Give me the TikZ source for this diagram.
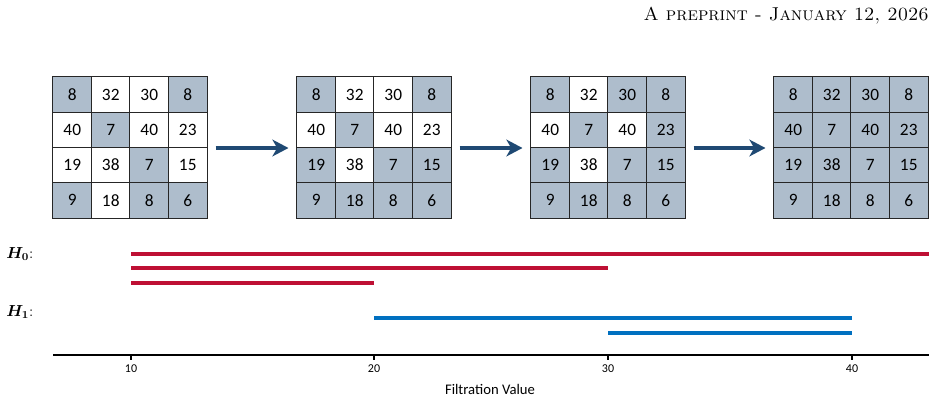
\documentclass[tikz,border=0pt]{standalone}
\usepackage{amsmath}
\usepackage{fontspec}
\newfontfamily\cellfont{Carlito}
\usetikzlibrary{arrows.meta,positioning}

\definecolor{cellgray}{RGB}{174,189,204}
\definecolor{stepblue}{RGB}{31,73,115}
\definecolor{barred}{RGB}{190,16,52}
\definecolor{barblue}{RGB}{0,112,192}

\begin{document}
\begin{tikzpicture}[x=0.75pt, y=-0.75pt,
        cell/.style = {rectangle, draw=black!85, line width=0.75pt, minimum width=28.9pt, minimum height=26.45pt, inner sep=0pt, font=\cellfont\fontsize{13}{15}\selectfont},
        step arrow/.style = {-{Stealth[length=12pt, width=12.5pt, inset=3.5pt]}, line width=2.3pt, draw=stepblue, shorten <=6pt, shorten >=6pt},
        hzero/.style = {line width=3.7pt, draw=barred},
        hone/.style = {line width=3.7pt, draw=barblue},
        axis/.style = {line width=1.1pt, draw=black}
    ]
        \useasboundingbox (0,0) rectangle (936,402);

        % Header
        \node[anchor=base east, inner sep=0pt, font=\fontsize{14}{16}\selectfont] (head) at (929,21) {\textsc{A preprint - January 12, 2026}};

        % Filtration steps: cell shaded when value <= threshold
        \foreach \k/\thr/\gx in {1/10/53, 2/20/297, 3/30/531, 4/40/774} {
            \foreach \row [count=\r] in {{8,32,30,8},{40,7,40,23},{19,38,7,15},{9,18,8,6}} {
                \foreach \v [count=\c] in \row {
                    \ifnum\v>\thr\relax \def\cfill{white}\else \def\cfill{cellgray}\fi
                    \node[cell, fill=\cfill] (g\k-\r-\c) at ({\gx+(\c-0.5)*38.5}, {77+(\r-0.5)*35.25}) {\v};
                }
            }
        }

        % Arrows between steps
        \draw[step arrow] (g1-2-4.south east) -- (g2-2-1.south west);
        \draw[step arrow] (g2-2-4.south east) -- (g3-2-1.south west);
        \draw[step arrow] (g3-2-4.south east) -- (g4-2-1.south west);

        % Barcode labels
        \node[anchor=west, inner sep=0pt, font=\fontsize{11.5}{13}\selectfont] (lzero) at (6,254) {$\boldsymbol{H_0}$:};
        \node[anchor=west, inner sep=0pt, font=\fontsize{11.5}{13}\selectfont] (lone) at (6,312) {$\boldsymbol{H_1}$:};

        % Axis and ticks
        \draw[axis] (53,355) -- (929,355);
        \foreach \v/\px in {10/131, 20/374, 30/608, 40/852} {
            \coordinate (t\v) at (\px,355);
            \draw[line width=0.9pt] (t\v) -- ++(0,5);
            \node[font=\cellfont\fontsize{9}{11}\selectfont] (n\v) at (\px,369) {\v};
        }
        \node[font=\cellfont\fontsize{11}{13}\selectfont] (xlabel) at (490,389) {Filtration Value};

        % Bars
        \draw[hzero] (131,254) -- (929,254);
        \draw[hzero] (131,268) -- (608,268);
        \draw[hzero] (131,283) -- (374,283);
        \draw[hone] (374,318) -- (852,318);
        \draw[hone] (608,333) -- (852,333);

    \end{tikzpicture}
\end{document}
